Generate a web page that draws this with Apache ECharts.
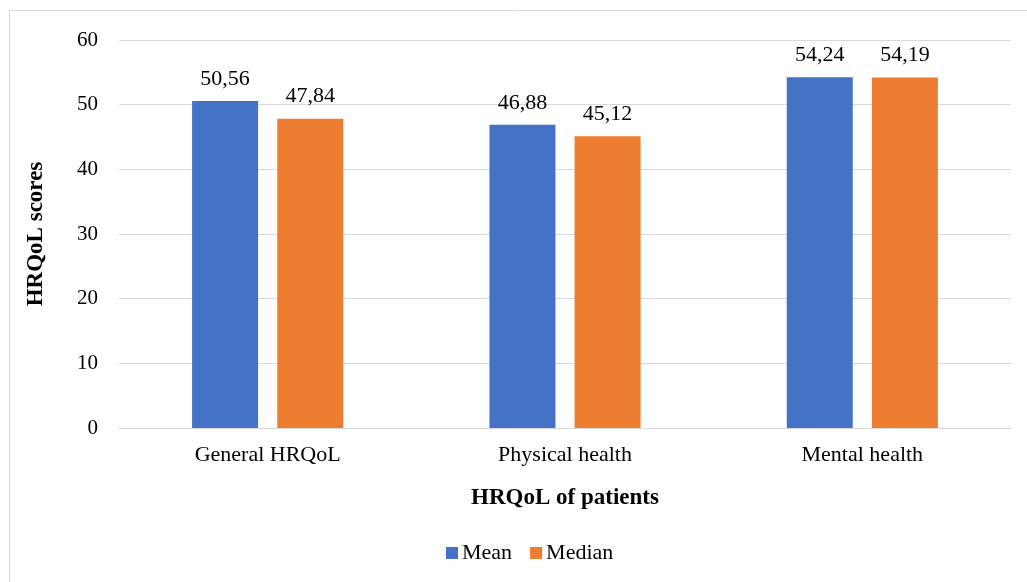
<!DOCTYPE html>
<html><head><meta charset="utf-8">
<script src="https://cdn.jsdelivr.net/npm/echarts@6/dist/echarts.min.js"></script>
<style>html,body{margin:0;padding:0;background:#fff}#c{width:1027px;height:582px}</style>
</head><body><div id="c"></div>
<script>
const categories = ['General HRQoL', 'Physical health', 'Mental health'];
const meanValues = [50.56, 46.88, 54.24];
const medianValues = [47.84, 45.12, 54.19];
const yTicks = [0, 10, 20, 30, 40, 50, 60];

const FONT = '"Liberation Serif", "DejaVu Serif", serif';
const chart = echarts.init(document.getElementById('c'));
const fmt = p => p.value.toFixed(2).replace('.', ',');
chart.setOption({
  animation: false,
  textStyle: { fontFamily: FONT },
  graphic: [{ type: 'rect', shape: { x: 9.5, y: 10.5, width: 1100, height: 700 }, style: { fill: 'none', stroke: '#d9d9d9', lineWidth: 1 } }],
  grid: { left: 119, right: 16, top: 40, bottom: 154, containLabel: false },
  legend: {
    top: 537, left: 441, itemWidth: 12, itemHeight: 12, itemGap: 18,
    icon: 'rect',
    textStyle: { fontFamily: FONT, fontSize: 22, color: '#000', padding: [0, 0, 0, -1] },
    data: ['Mean', 'Median']
  },
  xAxis: {
    type: 'category', data: categories,
    name: 'HRQoL of patients', nameLocation: 'middle', nameGap: 59,
    nameTextStyle: { fontFamily: FONT, fontSize: 23, fontWeight: 'bold', color: '#000' },
    axisLine: { lineStyle: { color: '#d9d9d9', width: 1 } },
    axisTick: { show: false },
    axisLabel: { fontFamily: FONT, fontSize: 22, color: '#000', margin: 16 }
  },
  yAxis: {
    type: 'value', min: yTicks[0], max: yTicks[yTicks.length - 1], interval: 10,
    name: 'HRQoL scores', nameLocation: 'middle', nameGap: 71, nameRotate: 90,
    nameTextStyle: { fontFamily: FONT, fontSize: 23, fontWeight: 'bold', color: '#000' },
    axisLine: { show: false }, axisTick: { show: false },
    splitLine: { lineStyle: { color: '#d9d9d9', width: 1 } },
    axisLabel: { fontFamily: FONT, fontSize: 21, color: '#000', margin: 21 }
  },
  series: [
    { name: 'Mean', type: 'bar', data: meanValues, barWidth: 66, barGap: '29%',
      itemStyle: { color: '#4472c4' },
      label: { show: true, position: 'top', distance: 11, formatter: fmt, fontFamily: FONT, fontSize: 22, color: '#000' } },
    { name: 'Median', type: 'bar', data: medianValues, barWidth: 66,
      itemStyle: { color: '#ed7d31' },
      label: { show: true, position: 'top', distance: 11, formatter: fmt, fontFamily: FONT, fontSize: 22, color: '#000' } }
  ]
});
</script></body></html>
